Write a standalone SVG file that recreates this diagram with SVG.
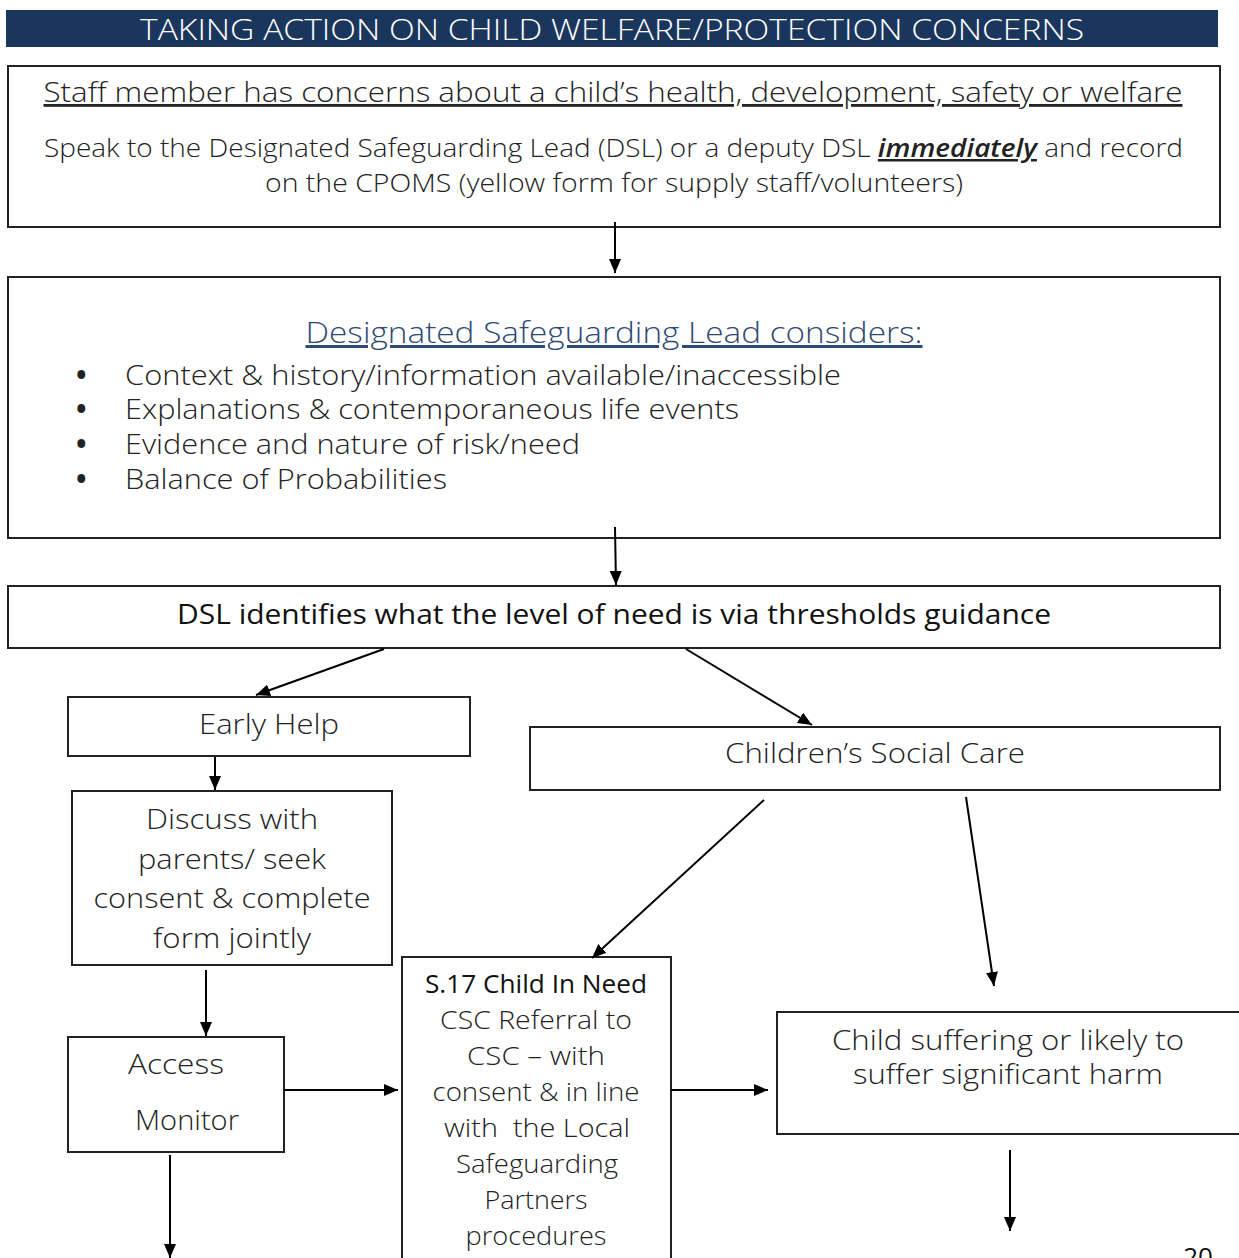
<svg xmlns="http://www.w3.org/2000/svg" width="1239" height="1258" viewBox="0 0 1239 1258">
  <style>
    .box { fill: #ffffff; stroke: #222222; stroke-width: 2; }
    .t { font-family: "Open Sans", "Liberation Sans", sans-serif; font-weight: 300; fill: #222222; }
    .c { text-anchor: middle; }
    .link { stroke: #000000; stroke-width: 2; fill: none; marker-end: url(#head); }
  </style>
  <defs>
    <marker id="head" viewBox="0 0 14 12" refX="14" refY="6" markerWidth="14" markerHeight="12" markerUnits="userSpaceOnUse" orient="auto">
      <path d="M0,0 L14,6 L0,12 Z" fill="#000000"/>
    </marker>
  </defs>
  <rect width="1239" height="1258" fill="#ffffff"/>

  <!-- title banner -->
  <g id="title">
    <rect x="6" y="10" width="1212" height="37" fill="#1b365d"/>
    <text x="612" y="40" class="c" font-family="'Open Sans', 'Liberation Sans', sans-serif" font-weight="300" font-size="29" fill="#ffffff" textLength="944" lengthAdjust="spacingAndGlyphs">TAKING ACTION ON CHILD WELFARE/PROTECTION CONCERNS</text>
  </g>

  <!-- staff concern -->
  <g id="staff-concern">
    <rect class="box" x="8" y="66" width="1212" height="161"/>
    <text class="t c" x="613" y="102" font-size="28" text-decoration="underline" textLength="1139" lengthAdjust="spacingAndGlyphs">Staff member has concerns about a child’s health, development, safety or welfare</text>
    <text class="t" x="44" y="157" font-size="25" textLength="1139" lengthAdjust="spacingAndGlyphs">Speak to the Designated Safeguarding Lead (DSL) or a deputy DSL <tspan font-style="italic" font-weight="600" text-decoration="underline">immediately</tspan> and record</text>
    <text class="t c" x="614" y="192" font-size="25" textLength="698" lengthAdjust="spacingAndGlyphs">on the CPOMS (yellow form for supply staff/volunteers)</text>
  </g>

  <!-- DSL considers -->
  <g id="dsl-considers">
    <rect class="box" x="8" y="277" width="1212" height="261"/>
    <text x="614" y="343" text-anchor="middle" font-family="'Open Sans', 'Liberation Sans', sans-serif" font-weight="300" font-size="30" fill="#2e4a73" text-decoration="underline" textLength="617" lengthAdjust="spacingAndGlyphs">Designated Safeguarding Lead considers:</text>
    <g class="t" font-size="28">
      <text x="76" y="385" font-weight="700">•</text>
      <text x="125" y="385" textLength="716" lengthAdjust="spacingAndGlyphs">Context &amp; history/information available/inaccessible</text>
      <text x="76" y="419" font-weight="700">•</text>
      <text x="125" y="419" textLength="614" lengthAdjust="spacingAndGlyphs">Explanations &amp; contemporaneous life events</text>
      <text x="76" y="454" font-weight="700">•</text>
      <text x="125" y="454" textLength="455" lengthAdjust="spacingAndGlyphs">Evidence and nature of risk/need</text>
      <text x="76" y="489" font-weight="700">•</text>
      <text x="125" y="489" textLength="322" lengthAdjust="spacingAndGlyphs">Balance of Probabilities</text>
    </g>
  </g>

  <!-- level of need -->
  <g id="level-of-need">
    <rect class="box" x="8" y="586" width="1212" height="62"/>
    <text x="614" y="624" text-anchor="middle" font-family="'Open Sans', 'Liberation Sans', sans-serif" font-weight="400" font-size="27" fill="#111111" textLength="874" lengthAdjust="spacingAndGlyphs">DSL identifies what the level of need is via thresholds guidance</text>
  </g>

  <!-- early help -->
  <g id="early-help">
    <rect class="box" x="68" y="697" width="402" height="59"/>
    <text class="t c" x="269" y="734" font-size="28" textLength="140" lengthAdjust="spacingAndGlyphs">Early Help</text>
  </g>

  <!-- children's social care -->
  <g id="social-care">
    <rect class="box" x="530" y="727" width="690" height="63"/>
    <text class="t c" x="875" y="763" font-size="28" textLength="300" lengthAdjust="spacingAndGlyphs">Children’s Social Care</text>
  </g>

  <!-- discuss with parents -->
  <g id="discuss">
    <rect class="box" x="72" y="791" width="320" height="174"/>
    <g class="t c" font-size="28">
      <text x="232" y="829" textLength="172" lengthAdjust="spacingAndGlyphs">Discuss with</text>
      <text x="232" y="869" textLength="188" lengthAdjust="spacingAndGlyphs">parents/ seek</text>
      <text x="232" y="908" textLength="277" lengthAdjust="spacingAndGlyphs">consent &amp; complete</text>
      <text x="232" y="948" textLength="158" lengthAdjust="spacingAndGlyphs">form jointly</text>
    </g>
  </g>

  <!-- access / monitor -->
  <g id="access-monitor">
    <rect class="box" x="68" y="1037" width="216" height="115"/>
    <text class="t c" x="176" y="1074" font-size="28" textLength="96" lengthAdjust="spacingAndGlyphs">Access</text>
    <text class="t c" x="187" y="1130" font-size="28" textLength="104" lengthAdjust="spacingAndGlyphs">Monitor</text>
  </g>

  <!-- child in need -->
  <g id="child-in-need">
    <rect class="box" x="402" y="957" width="269" height="320"/>
    <text x="536" y="993" text-anchor="middle" font-family="'Open Sans', 'Liberation Sans', sans-serif" font-weight="400" font-size="26" fill="#111111" textLength="222" lengthAdjust="spacingAndGlyphs">S.17 Child In Need</text>
    <g class="t c" font-size="26">
      <text x="536" y="1029" textLength="192" lengthAdjust="spacingAndGlyphs">CSC Referral to</text>
      <text x="536" y="1065" textLength="138" lengthAdjust="spacingAndGlyphs">CSC – with</text>
      <text x="536" y="1101" textLength="207" lengthAdjust="spacingAndGlyphs">consent &amp; in line</text>
      <text x="537" y="1137" xml:space="preserve" textLength="186" lengthAdjust="spacingAndGlyphs">with  the Local</text>
      <text x="537" y="1173" textLength="162" lengthAdjust="spacingAndGlyphs">Safeguarding</text>
      <text x="536" y="1209" textLength="103" lengthAdjust="spacingAndGlyphs">Partners</text>
      <text x="536" y="1245" textLength="141" lengthAdjust="spacingAndGlyphs">procedures</text>
    </g>
  </g>

  <!-- significant harm -->
  <g id="significant-harm">
    <rect class="box" x="777" y="1012" width="480" height="122"/>
    <text class="t c" x="1008" y="1050" font-size="28" textLength="352" lengthAdjust="spacingAndGlyphs">Child suffering or likely to</text>
    <text class="t c" x="1008" y="1084" font-size="28" textLength="310" lengthAdjust="spacingAndGlyphs">suffer significant harm</text>
  </g>

  <!-- page number -->
  <text x="1198" y="1266" text-anchor="middle" font-family="'Open Sans', 'Liberation Sans', sans-serif" font-size="26" fill="#111111">20</text>

  <!-- connectors -->
  <g id="connectors">
    <line class="link" x1="615" y1="222" x2="615" y2="273"/>
    <line class="link" x1="615" y1="527" x2="616" y2="585"/>
    <line class="link" x1="384" y1="649" x2="256" y2="695"/>
    <line class="link" x1="686" y1="649" x2="812" y2="725"/>
    <line class="link" x1="215" y1="757" x2="215" y2="790"/>
    <line class="link" x1="764" y1="800" x2="592" y2="958"/>
    <line class="link" x1="966" y1="797" x2="994" y2="986"/>
    <line class="link" x1="206" y1="970" x2="206" y2="1036"/>
    <line class="link" x1="284" y1="1090" x2="398" y2="1090"/>
    <line class="link" x1="671" y1="1090" x2="768" y2="1090"/>
    <line class="link" x1="170" y1="1155" x2="170" y2="1258"/>
    <line class="link" x1="1010" y1="1150" x2="1010" y2="1231"/>
  </g>
</svg>
